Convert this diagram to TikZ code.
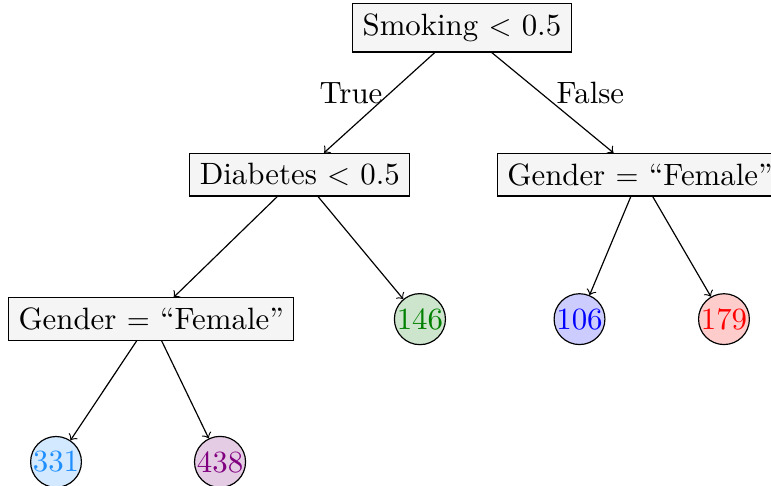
\documentclass[tikz,border=0pt]{standalone}
\usepackage{tikz}
\usepackage{amsmath}
\usepackage{xcolor}

\definecolor{leafgreen}{rgb}{0,0.5,0}
\definecolor{leafsky}{rgb}{0.12,0.56,1}
\definecolor{leafpurple}{rgb}{0.5,0,0.5}

\tikzset{
  every node/.style={font=\fontsize{10.45}{12.5}\selectfont},
  split/.style={draw, fill=gray!8, inner sep=3.4pt},
  leaf/.style={draw, circle, inner sep=0pt, text=#1, fill=#1!20},
  branch/.style={->}
}

\begin{document}
\begin{tikzpicture}
        \useasboundingbox (0,0) rectangle (9.18,-5.785);
        \node[split](smoking) at (5.50,-0.333) {Smoking $<$ 0.5};
        \node[split](diabetes) at (3.57,-2.08) {Diabetes $<$ 0.5};
        \node[split](genderR) at (7.62,-2.08) {Gender $=$ ``Female''};
        \node[split](genderL) at (1.80,-3.80) {Gender $=$ ``Female''};
        \node[leaf=leafgreen](n146) at (5.00,-3.80) {146};
        \node[leaf=blue](n106) at (6.90,-3.80) {106};
        \node[leaf=red](n179) at (8.62,-3.80) {179};
        \node[leaf=leafsky](n331) at (0.667,-5.50) {331};
        \node[leaf=leafpurple](n438) at (2.62,-5.50) {438};
        \node(true) at (4.18,-1.107) {True};
        \node(false) at (7.03,-1.107) {False};
        \draw[branch](smoking)--(diabetes);
        \draw[branch](smoking)--(genderR);
        \draw[branch](diabetes)--(genderL);
        \draw[branch](diabetes)--(n146);
        \draw[branch](genderR)--(n106);
        \draw[branch](genderR)--(n179);
        \draw[branch](genderL)--(n331);
        \draw[branch](genderL)--(n438);
        \end{tikzpicture}
\end{document}
